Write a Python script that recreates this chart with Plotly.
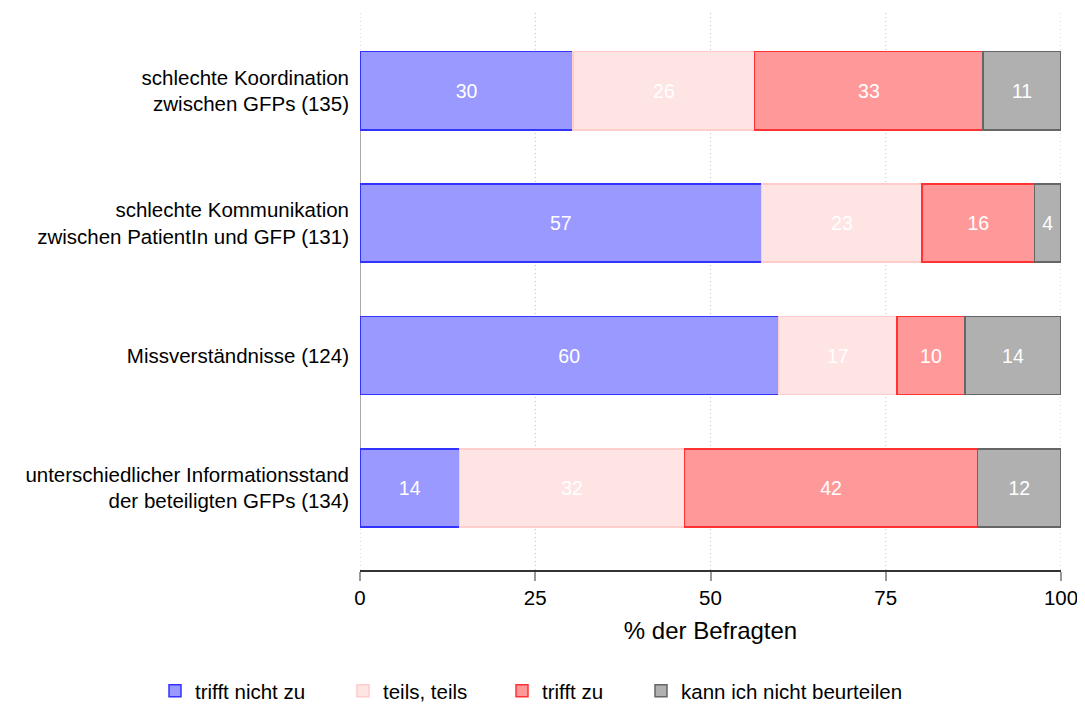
import plotly.graph_objects as go

categories = [
    "schlechte Koordination<br>zwischen GFPs (135)",
    "schlechte Kommunikation<br>zwischen PatientIn und GFP (131)",
    "Missverständnisse (124)",
    "unterschiedlicher Informationsstand<br>der beteiligten GFPs (134)",
]
series_names = ["trifft nicht zu", "teils, teils", "trifft zu", "kann ich nicht beurteilen"]
trifft_nicht_zu = [30.4, 57.3, 59.7, 14.2]
teils_teils = [25.9, 22.9, 16.9, 32.1]
trifft_zu = [32.6, 16.0, 9.7, 41.8]
kann_nicht = [11.1, 3.8, 13.7, 11.9]
x_ticks = [0, 25, 50, 75, 100]

series_values = [trifft_nicht_zu, teils_teils, trifft_zu, kann_nicht]
fills = ["#9999FF", "#FFE4E4", "#FF9999", "#B0B0B0"]
borders = ["#3333FF", "#FFCCCC", "#FF3333", "#666666"]

FONT = "Liberation Sans, Arial, sans-serif"
FIG_W, FIG_H = 1077, 699
legend_ids = ["legend", "legend2", "legend3", "legend4"]
legend_left_px = [147, 335, 494, 633]

fig = go.Figure()
for name, vals, fc, bc, lid in zip(series_names, series_values, fills, borders, legend_ids):
    fig.add_trace(go.Bar(
        y=categories, x=vals, name=name, orientation="h",
        marker=dict(color=fc, line=dict(color=bc, width=1.5)),
        width=0.59,
        text=[str(round(v)) for v in vals],
        textposition="inside", insidetextanchor="middle",
        textfont=dict(color="white", size=19.5, family=FONT),
        constraintext="none",
        hoverinfo="skip",
        legend=lid,
    ))

# dotted grid lines (including the ones on the plot edges)
for t in x_ticks:
    fig.add_shape(type="line", xref="x", yref="paper", x0=t, x1=t, y0=0, y1=1,
                  line=dict(color="#BDBDBD", width=1, dash="1px,3px"), layer="below")

fig.add_shape(type="line", xref="x", yref="y", x0=0, x1=0, y0=0, y1=3,
              line=dict(color="#AAAAAA", width=2), layer="below")

legend_layouts = {}
for lid, lx in zip(legend_ids, legend_left_px):
    legend_layouts[lid] = dict(
        orientation="h", xref="container", yref="container",
        x=lx / FIG_W, xanchor="left", y=0.023, yanchor="middle",
        font=dict(size=20.5, family=FONT), bgcolor="rgba(0,0,0,0)",
    )

fig.update_layout(
    barmode="stack",
    width=FIG_W, height=FIG_H,
    margin=dict(l=352, r=24, t=2, b=137),
    plot_bgcolor="white", paper_bgcolor="white",
    font=dict(family=FONT, color="black"),
    showlegend=True,
    xaxis=dict(
        range=[0, 100], tickvals=x_ticks, ticktext=[str(t) for t in x_ticks],
        showgrid=False,
        showline=True, linecolor="#333333", linewidth=1.5,
        ticks="outside", tickcolor="#999999", ticklen=9, tickwidth=2,
        tickfont=dict(size=20.5, family=FONT),
        title=dict(text="% der Befragten", font=dict(size=24, family=FONT), standoff=14),
        zeroline=False,
    ),
    yaxis=dict(
        type="category", categoryorder="array", categoryarray=categories,
        range=[3.62, -0.61], showgrid=False, showline=False, zeroline=False,
        ticks="", tickfont=dict(size=20.5, family=FONT), ticklabelstandoff=10,
    ),
    **legend_layouts,
)

fig.write_html("out.html")
